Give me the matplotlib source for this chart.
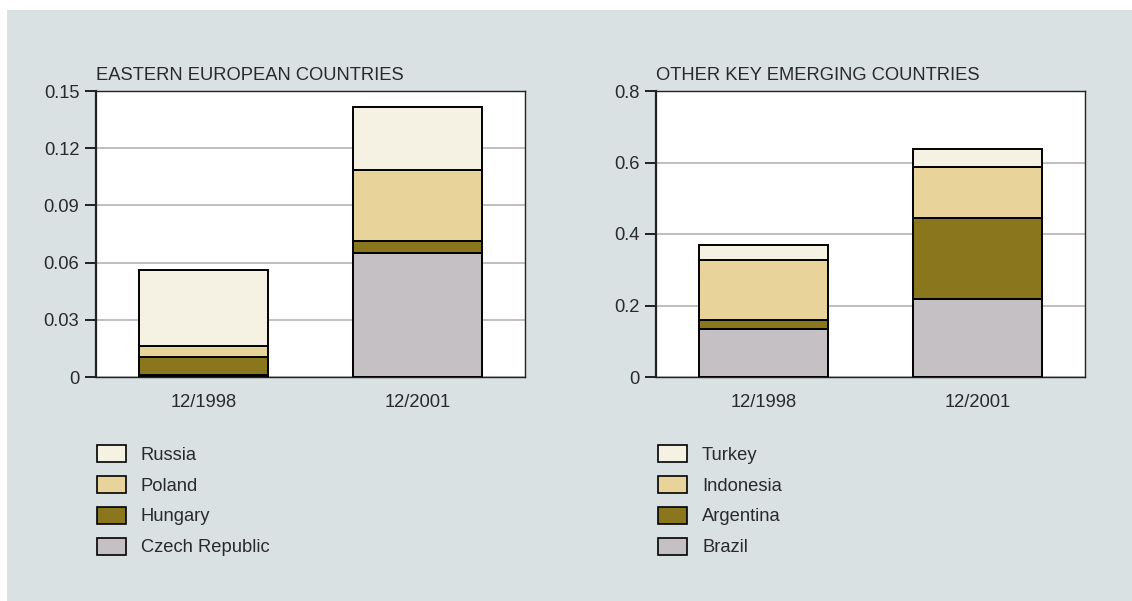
import matplotlib
matplotlib.use("Agg")
import matplotlib.pyplot as plt
from matplotlib.patches import Patch, Rectangle

plt.rcParams["font.family"] = ["Liberation Sans", "DejaVu Sans"]
plt.rcParams["text.color"] = "#2a2a2a"
plt.rcParams["xtick.labelcolor"] = "#2a2a2a"
plt.rcParams["ytick.labelcolor"] = "#2a2a2a"

periods = ["12/1998", "12/2001"]

# eastern european countries (bottom to top)
east_names = ["Czech Republic", "Hungary", "Poland", "Russia"]
czech = [0.001, 0.065]
hungary = [0.0095, 0.0065]
poland = [0.0058, 0.037]
russia = [0.040, 0.033]

# other key emerging countries (bottom to top)
other_names = ["Brazil", "Argentina", "Indonesia", "Turkey"]
brazil = [0.135, 0.219]
argentina = [0.024, 0.225]
indonesia = [0.168, 0.144]
turkey = [0.042, 0.051]

east_ticks = [0, 0.03, 0.06, 0.09, 0.12, 0.15]
east_ticklabels = ["0", "0.03", "0.06", "0.09", "0.12", "0.15"]
other_ticks = [0, 0.2, 0.4, 0.6, 0.8]
other_ticklabels = ["0", "0.2", "0.4", "0.6", "0.8"]

colors = ["#c5c0c4", "#8a761c", "#e8d39b", "#f5f1e3"]
bg = "#d9e1e3"
FS = 13.2


def draw_panel(ax, title, names, series, ticks, ticklabels, legend_xy):
    bottom = [0.0] * len(periods)
    for vals, col in zip(series, colors):
        ax.bar(range(len(periods)), vals, width=0.6, bottom=bottom, color=col,
               edgecolor="black", linewidth=1.4, zorder=3)
        bottom = [b + v for b, v in zip(bottom, vals)]
    ax.set_xlim(-0.5, 1.5)
    ax.set_ylim(0, ticks[-1])
    ax.set_yticks(ticks, ticklabels)
    ax.set_xticks(range(len(periods)), periods)
    ax.yaxis.grid(True, color="#b4b4b4", linewidth=1.2, zorder=0)
    ax.tick_params(axis="y", length=8, width=1.2, labelsize=FS, pad=4)
    ax.tick_params(axis="x", length=0, labelsize=FS, pad=12)
    for s in ax.spines.values():
        s.set_color("#222222")
        s.set_linewidth(1.0)
    ax.spines["left"].set_linewidth(1.6)
    ax.set_title(title, loc="left", fontsize=FS, pad=8)
    handles = [Patch(facecolor=c, edgecolor="black", linewidth=1.2)
               for c in colors][::-1]
    fig.legend(handles, names[::-1], loc="upper left", bbox_to_anchor=legend_xy,
               frameon=False, fontsize=FS, handlelength=1.6, handleheight=1.05,
               handletextpad=0.8, labelspacing=0.66, borderpad=0, borderaxespad=0)


fig = plt.figure(figsize=(11.32, 6.01), dpi=100)
fig.patch.set_facecolor("white")
fig.patches.append(Rectangle((7 / 1132, 0), 1, 1 - 10 / 601, transform=fig.transFigure,
                             facecolor=bg, edgecolor="none", zorder=-10))

ax1 = fig.add_axes([96 / 1132, 1 - 377 / 601, 429 / 1132, 286 / 601])
ax2 = fig.add_axes([656 / 1132, 1 - 377 / 601, 429 / 1132, 286 / 601])

draw_panel(ax1, "EASTERN EUROPEAN COUNTRIES", east_names,
           [czech, hungary, poland, russia], east_ticks, east_ticklabels,
           (97 / 1132, 1 - 445 / 601))
draw_panel(ax2, "OTHER KEY EMERGING COUNTRIES", other_names,
           [brazil, argentina, indonesia, turkey], other_ticks, other_ticklabels,
           (658 / 1132, 1 - 445 / 601))

fig.savefig("out.png", dpi=100, facecolor=fig.get_facecolor())
